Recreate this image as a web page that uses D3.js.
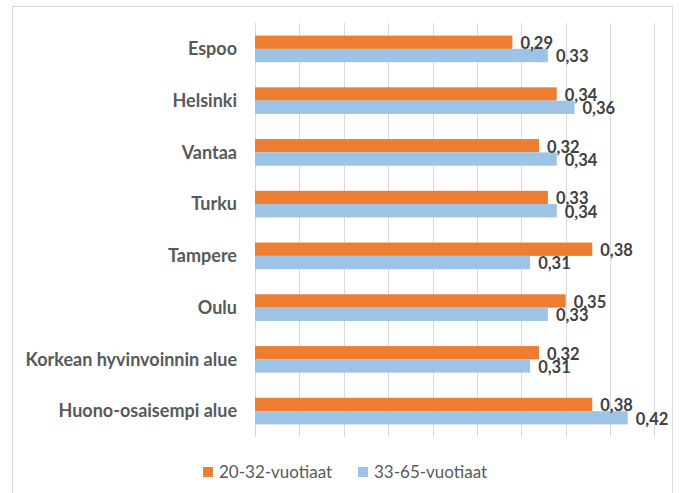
<!DOCTYPE html>
<html>
<head>
<meta charset="utf-8">
<script src="https://cdn.jsdelivr.net/npm/d3@7"></script>
<style>
  body { margin: 0; background: #fff; }
  svg { display: block; font-family: Lato, "Open Sans", sans-serif; }
</style>
</head>
<body>
<svg id="chart" width="679" height="493"></svg>
<script>
// data
var categories = ["Espoo", "Helsinki", "Vantaa", "Turku", "Tampere", "Oulu",
                  "Korkean hyvinvoinnin alue", "Huono-osaisempi alue"];
var seriesNames = ["20-32-vuotiaat", "33-65-vuotiaat"];
var young = [0.29, 0.34, 0.32, 0.33, 0.38, 0.35, 0.32, 0.38];
var older = [0.33, 0.36, 0.34, 0.34, 0.31, 0.33, 0.31, 0.42];
var xTicks = [0, 0.05, 0.10, 0.15, 0.20, 0.25, 0.30, 0.35, 0.40, 0.45];

var colors = ["#ED7D31", "#9DC3E6"];
var series = [young, older];

var svg = d3.select("#chart");

// outer chart frame
svg.append("rect")
    .attr("x", 12.5).attr("y", 6.5)
    .attr("width", 660).attr("height", 500)
    .attr("fill", "none").attr("stroke", "#D9D9D9");

var plotLeft = 255, plotRight = 654.4, plotTop = 23, plotBottom = 437;

var x = d3.scaleLinear().domain([0, 0.45]).range([plotLeft, plotRight]);
var y = d3.scaleBand().domain(categories).range([plotTop, plotBottom])
    .paddingInner(0.486).paddingOuter(0.243);
var ySub = d3.scaleBand().domain([0, 1]).range([0, y.bandwidth()]);

// gridlines
svg.append("g")
    .selectAll("line")
    .data(xTicks)
    .enter().append("line")
    .attr("x1", function(d) { return Math.round(x(d)) + 0.5; })
    .attr("x2", function(d) { return Math.round(x(d)) + 0.5; })
    .attr("y1", plotTop).attr("y2", plotBottom)
    .attr("stroke", "#D9D9D9").attr("stroke-width", 1);

// bars
var groups = svg.append("g")
    .selectAll("g")
    .data(categories)
    .enter().append("g")
    .attr("transform", function(d) { return "translate(0," + y(d) + ")"; });

groups.selectAll("rect")
    .data(function(d, i) { return series.map(function(s, k) { return {k: k, v: s[i]}; }); })
    .enter().append("rect")
    .attr("x", x(0))
    .attr("y", function(d) { return ySub(d.k); })
    .attr("width", function(d) { return x(d.v) - x(0); })
    .attr("height", ySub.bandwidth())
    .attr("fill", function(d) { return colors[d.k]; });

var fmt = function(v) { return d3.format(".2f")(v).replace(".", ","); };

groups.selectAll("text.val")
    .data(function(d, i) { return series.map(function(s, k) { return {k: k, v: s[i]}; }); })
    .enter().append("text")
    .attr("class", "val")
    .attr("x", function(d) { return x(d.v) + 8; })
    .attr("y", function(d) { return ySub(d.k) + ySub.bandwidth() / 2 + 1; })
    .attr("dy", "0.35em")
    .attr("font-size", 16.5)
    .attr("font-weight", "bold")
    .attr("fill", "#404040")
    .text(function(d) { return fmt(d.v); });

// category labels
svg.append("g")
    .selectAll("text")
    .data(categories)
    .enter().append("text")
    .attr("x", 237)
    .attr("y", function(d) { return y(d) + y.bandwidth() / 2; })
    .attr("dy", "0.35em")
    .attr("text-anchor", "end")
    .attr("font-size", 18)
    .attr("font-weight", "bold")
    .attr("fill", "#595959")
    .text(function(d) { return d; });

// legend
var legendX = [203, 358];
var legend = svg.append("g")
    .selectAll("g")
    .data(seriesNames)
    .enter().append("g")
    .attr("transform", function(d, i) { return "translate(" + legendX[i] + ",467)"; });

legend.append("rect")
    .attr("width", 10).attr("height", 10)
    .attr("fill", function(d, i) { return colors[i]; });

legend.append("text")
    .attr("x", 16).attr("y", 5)
    .attr("dy", "0.35em")
    .attr("font-size", 17)
    .attr("fill", "#595959")
    .text(function(d) { return d; });
</script>
</body>
</html>
